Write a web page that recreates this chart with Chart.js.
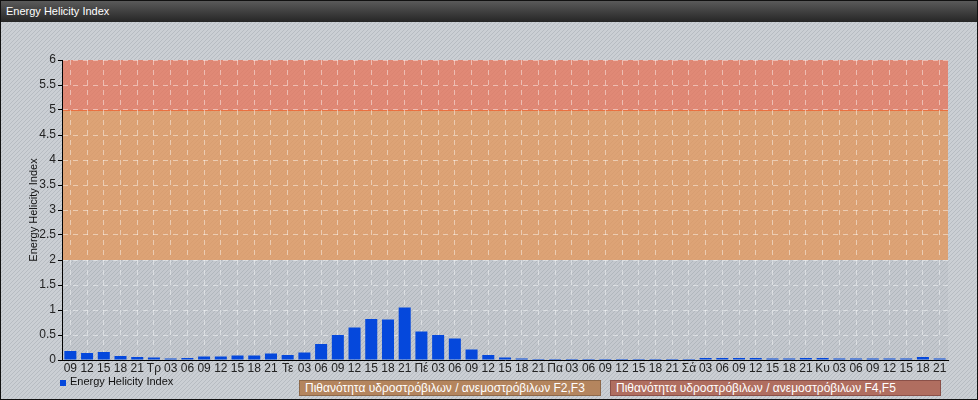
<!DOCTYPE html>
<html>
<head>
<meta charset="utf-8">
<title>Energy Helicity Index</title>
<script src="https://cdn.jsdelivr.net/npm/chart.js@4.4.0/dist/chart.umd.min.js"></script>
<style>
  body { margin: 0; background: #fff; }
  #frame {
    position: relative; width: 978px; height: 400px; box-sizing: border-box;
    border: 1px solid #111; background-color: #c6cacf; overflow: hidden;
    font-family: "Liberation Sans", Arial, sans-serif;
  }
  #titleBar {
    position: absolute; left: 0; top: 0; width: 976px; height: 21px; box-sizing: border-box;
    padding-left: 5px; background: linear-gradient(to bottom, #5a5a5a, #262626);
    color: #fff; font-size: 11px; line-height: 21px;
  }
  #chartWrap { position: absolute; left: 0; top: 21px; width: 976px; height: 356px; }
  #legend { position: absolute; left: 59px; top: 373px; font-size: 11px; color: #111; line-height: 14px; }
  #legend span.swatch { display: inline-block; width: 6px; height: 6px; background: #0548dc; margin-right: 4px; vertical-align: -1px; }
  .riskBox {
    position: absolute; top: 379px; height: 16px; box-sizing: border-box; padding-left: 5px;
    color: #fff; font-size: 12px; line-height: 14px; white-space: nowrap;
  }
  #riskLow { left: 298px; width: 302px; background: #b4855e; border: 1px solid #8d6849; }
  #riskHigh { left: 609px; width: 331px; background: #b06e60; border: 1px solid #8a5048; }
</style>
</head>
<body>
<div id="frame">
  <div id="titleBar">Energy Helicity Index</div>
  <div id="chartWrap"><canvas id="helicityChart" width="976" height="356"></canvas></div>
  <div id="legend"><span class="swatch"></span>Energy Helicity Index</div>
  <div class="riskBox" id="riskLow">Πιθανότητα υδροστρόβιλων / ανεμοστρόβιλων F2,F3</div>
  <div class="riskBox" id="riskHigh">Πιθανότητα υδροστρόβιλων / ανεμοστρόβιλων F4,F5</div>
</div>
<script>
const hourLabels = [
    "09", "12", "15", "18", "21",
    "Τρ", "03", "06", "09", "12", "15", "18", "21",
    "Τε", "03", "06", "09", "12", "15", "18", "21",
    "Πέ", "03", "06", "09", "12", "15", "18", "21",
    "Πα", "03", "06", "09", "12", "15", "18", "21",
    "Σά", "03", "06", "09", "12", "15", "18", "21",
    "Κυ", "03", "06", "09", "12", "15", "18", "21"
];

const helicityValues = [
    0.18, 0.14, 0.16, 0.08, 0.06,
    0.05, 0.03, 0.04, 0.07, 0.07, 0.09, 0.09, 0.13,
    0.10, 0.15, 0.32, 0.50, 0.65, 0.82, 0.81, 1.05,
    0.57, 0.50, 0.43, 0.21, 0.10, 0.05, 0.03, 0.02,
    0.02, 0.02, 0.02, 0.02, 0.02, 0.02, 0.02, 0.02,
    0.02, 0.04, 0.04, 0.04, 0.04, 0.03, 0.03, 0.04,
    0.04, 0.03, 0.03, 0.03, 0.03, 0.03, 0.06, 0.03
];

// risk zones: 0-2 none, 2-5 F2/F3, 5-6 F4/F5
const bandLimits = [0, 2, 5, 6];
const bandColors = ['rgba(120,130,140,0.08)', 'rgba(226,148,88,0.76)', 'rgba(230,114,88,0.76)'];

const fontFamily = '"Liberation Sans", Arial, sans-serif';
const gridColor = 'rgba(255,255,255,0.45)';


// stripe texture for the panel background
function makeStripes() {
    const c = document.createElement('canvas');
    c.width = 4;
    c.height = 4;
    const g = c.getContext('2d');
    g.fillStyle = '#cbcfd4';
    g.fillRect(0, 0, 4, 4);
    g.fillStyle = '#b7bcc2';
    for (let i = 0; i < 4; i++) {
        g.fillRect(3 - i, i, 1, 1);
    }
    document.getElementById('frame').style.backgroundImage = 'url(' + c.toDataURL() + ')';
}
makeStripes();


const bandPlugin = {
    id: 'riskBands',
    beforeDraw(chart) {
        const { ctx, chartArea, scales } = chart;
        const y = scales.y;
        ctx.save();
        for (let i = 0; i < bandColors.length; i++) {
            const top = y.getPixelForValue(bandLimits[i + 1]);
            const bottom = y.getPixelForValue(bandLimits[i]);
            ctx.fillStyle = bandColors[i];
            ctx.fillRect(chartArea.left, top, chartArea.right - chartArea.left, bottom - top);
        }
        const edge = Math.round(y.getPixelForValue(bandLimits[2])) + 0.5;
        ctx.strokeStyle = '#ea7040';
        ctx.lineWidth = 1;
        ctx.beginPath();
        ctx.moveTo(chartArea.left, edge);
        ctx.lineTo(chartArea.right, edge);
        ctx.stroke();
        ctx.restore();
    }
};


const helicityChart = new Chart(document.getElementById('helicityChart'), {
    type: 'bar',
    data: {
        labels: hourLabels,
        datasets: [{
            label: 'Energy Helicity Index',
            data: helicityValues,
            backgroundColor: '#0548dc',
            borderWidth: 0,
            barPercentage: 0.72,
            categoryPercentage: 1.0
        }]
    },
    options: {
        responsive: false,
        animation: false,
        layout: { padding: { top: 38, right: 29, bottom: 0, left: 0 } },
        plugins: {
            legend: { display: false },
            tooltip: { enabled: false }
        },
        scales: {
            x: {
                grid: { offset: false, drawTicks: false, color: gridColor },
                border: { color: '#000', width: 1, dash: [5, 5] },
                ticks: {
                    autoSkip: false, maxRotation: 0, minRotation: 0, padding: 1,
                    color: '#222', font: { size: 12, family: fontFamily }
                },
                afterFit: scale => { scale.height = 18; }
            },
            y: {
                min: 0,
                max: 6,
                ticks: {
                    stepSize: 0.5, padding: 2,
                    color: '#222', font: { size: 12, family: fontFamily },
                    callback: value => String(value)
                },
                grid: { color: gridColor, tickLength: 4, tickColor: '#000', tickBorderDash: [] },
                border: { color: '#000', width: 1, dash: [5, 5] },
                title: {
                    display: true,
                    text: 'Energy Helicity Index',
                    color: '#111',
                    font: { size: 11, family: fontFamily },
                    padding: { top: 26, bottom: 0 }
                },
                afterFit: scale => { scale.width = 61; }
            }
        }
    },
    plugins: [bandPlugin]
});
</script>
</body>
</html>
